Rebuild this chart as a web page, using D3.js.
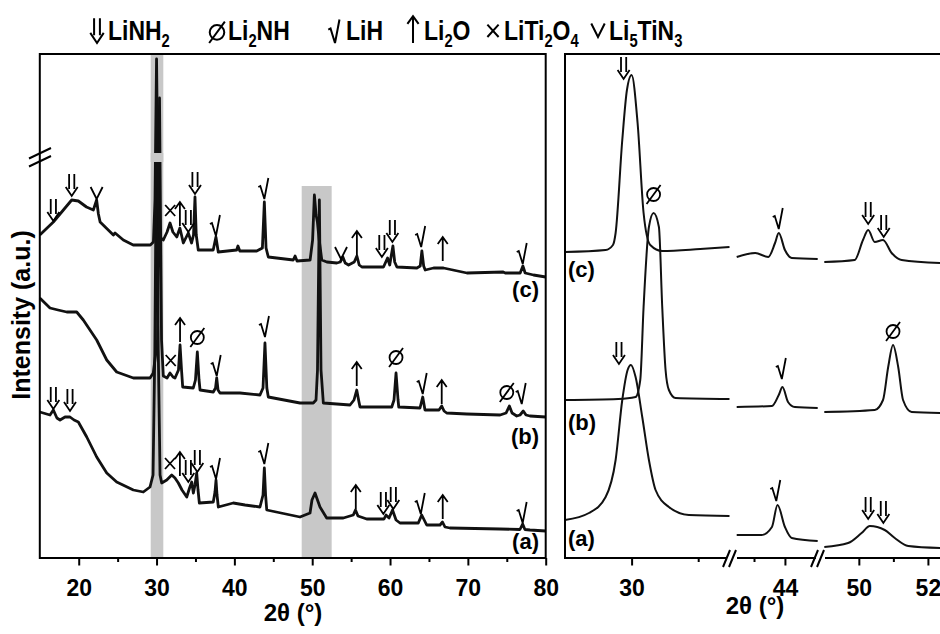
<!DOCTYPE html>
<html>
<head>
<meta charset="utf-8">
<script src="https://cdnjs.cloudflare.com/ajax/libs/d3/7.8.5/d3.min.js"></script>
<style>
  body { margin: 0; background: #fff; }
  text { font-family: Arial, "Liberation Sans", sans-serif; font-weight: bold; fill: #000; }
</style>
</head>
<body>
<svg id="chart" width="940" height="634"></svg>
<script>
// phases shown in the legend (digits are subscripts)
const phases = ['LiNH2', 'Li2NH', 'LiH', 'Li2O', 'LiTi2O4', 'Li5TiN3'];

// full range patterns, [2theta, intensity]
const patternC = [[15,323],[16.74,336],[19.1,358],[19.95,357],[21.0,351],[21.88,348],[22.3,358],[22.53,344],[22.75,336],
  [24.45,323],[24.67,325],[25.73,318],[27.0,313],[29.2,313],[29.6,316],[29.8,358],[30.0,499],[30.2,358],[30.4,321],
  [30.87,318],[31.35,326],[31.73,335],[32.1,326],[32.6,321],[33.0,330],[33.44,315],[34.08,325],[34.5,315],[34.75,323],
  [34.94,361],[35.1,323],[35.36,308],[37.28,308],[37.63,321],[37.93,306],[40.29,308],[40.46,312],[40.7,307],[42.87,307],
  [43.6,310],[43.85,356],[44.07,310],[44.36,301],[47.57,298],[47.8,302],[48.05,297],[49.73,298],[50.05,318],[50.28,363],
  [50.5,343],[50.67,336],[50.9,318],[51.23,298],[51.88,296],[53.16,295],[53.6,296],[53.94,301],[54.24,295],[54.67,293],
  [55.4,296],[55.74,302],[56.04,293],[56.38,291],[59.16,291],[59.68,300],[59.96,293],[60.15,302],[60.37,312],[60.6,296],
  [60.88,291],[63.45,290],[63.88,292],[64.09,307],[64.32,292],[64.52,288],[65.59,290],[66.87,290],[69.88,285],[74.54,286],
  [74.8,285],[76.72,285],[77.07,292],[77.36,285],[78.43,283],[80,281]];
const patternB = [[15,260],[16.31,250],[17.34,248],[18.46,246],[19.74,246],[20.59,238],[22.31,218],[23.6,198],[24.88,186],
  [27.02,180],[29.16,180],[29.58,185],[30.12,218],[30.38,460],[30.64,218],[30.87,182],[31.35,180],[31.73,185],[32.12,181],
  [32.37,180],[32.82,188],[33.02,213],[33.21,188],[33.36,171],[34.72,170],[35.0,178],[35.24,206],[35.46,178],[35.59,168],
  [37.29,166],[37.58,170],[37.73,180],[37.9,168],[38.15,165],[40.72,165],[43.29,163],[43.68,170],[43.93,215],[44.17,170],
  [44.36,161],[48.43,155],[50.14,155],[50.49,158],[50.68,188],[50.92,358],[51.13,188],[51.43,155],[54.86,153],[55.37,158],
  [55.72,168],[56.01,156],[56.14,151],[60.22,151],[60.51,158],[60.77,185],[61.03,158],[61.12,151],[63.85,150],[64.2,161],
  [64.49,148],[66.29,148],[66.64,152],[66.94,147],[67.28,145],[69.85,144],[74.14,143],[74.91,145],[75.33,152],[75.68,145],
  [76.28,142],[76.7,143],[77.12,147],[77.47,143],[77.98,142],[80,141]];
const patternA = [[15,146],[16.31,143],[16.74,148],[17.2,140],[17.6,138],[18.24,141],[18.88,141],[19.4,138],[19.95,136],
  [21.03,121],[22.31,101],[23.6,85],[24.88,76],[25.95,72],[27.02,68],[28.3,66],[29.16,71],[29.55,83],[29.78,208],[30.0,428],
  [30.22,208],[30.45,83],[30.66,75],[31.31,78],[31.95,83],[32.37,80],[32.8,75],[33.27,68],[33.88,61],[34.24,70],[34.52,76],
  [34.73,65],[34.94,73],[35.16,85],[35.33,68],[35.5,55],[37.29,56],[37.51,66],[37.64,78],[37.77,63],[37.94,51],[39.86,55],
  [41.37,53],[43.29,51],[43.68,63],[43.85,90],[44.01,63],[44.16,48],[48.43,41],[49.72,45],[49.97,58],[50.36,65],[51.0,51],
  [51.86,40],[54.0,40],[55.28,43],[55.56,48],[55.88,42],[57.0,39],[59.23,39],[59.48,43],[59.87,40],[60.32,48],[60.77,38],
  [61.28,35],[63.63,35],[64.07,43],[64.71,33],[66.42,33],[66.74,36],[67.06,31],[67.7,30],[74.12,29],[76.69,28.5],[77.04,34],
  [77.33,28.5],[77.98,28],[80,27]];

// enlarged windows around 30, 44 and 50-52 degrees
const zoom30C = [[29.0,306],[29.61,308],[29.72,313],[29.76,325],[29.86,418],[29.93,468],[30.0,483],[30.09,435],[30.18,345],
  [30.28,313],[30.46,307],[31.03,309],[31.47,311]];
const zoom30B = [[29.0,158],[29.8,159],[30.06,161],[30.13,178],[30.18,251],[30.26,331],[30.33,345],[30.41,331],[30.46,251],
  [30.51,188],[30.56,168],[30.66,160],[31.47,159]];
const zoom30A = [[29.0,38],[29.36,45],[29.61,61],[29.76,98],[29.86,158],[29.94,188],[29.99,193],[30.06,181],[30.16,141],
  [30.26,98],[30.36,68],[30.56,51],[30.86,43],[31.47,42]];
const zoom44C = [[43.22,301],[43.52,305],[43.73,301],[43.84,315],[43.9,325],[44.0,308],[44.11,300],[44.53,299]];
const zoom44B = [[43.22,151],[43.79,152],[43.9,163],[43.96,171],[44.05,156],[44.16,151],[44.53,150]];
const zoom44A = [[43.22,23],[43.62,23],[43.79,31],[43.88,53],[44.0,31],[44.11,20],[44.53,17]];
const zoom50C = [[49.0,296],[49.88,298],[50.12,318],[50.27,328],[50.46,316],[50.7,318],[50.95,305],[51.24,298],[52.35,295]];
const zoom50B = [[49.0,146],[50.46,148],[50.7,158],[50.85,191],[50.99,213],[51.14,191],[51.28,158],[51.53,146],[52.35,145]];
const zoom50A = [[49.0,11],[49.69,15],[50.08,25],[50.32,32],[50.75,28],[51.04,20],[51.43,12],[52.35,10]];

// phase markers: [phase, 2theta, intensity under the marker]
const marksC = [['LiNH2',16.74,336],['LiNH2',19.1,361],['Li5TiN3',22.3,358],['LiTi2O4',31.75,341],['Li2O',33.0,331],
  ['LiNH2',34.08,325],['LiNH2',34.94,363],['LiH',37.63,321],['LiH',43.85,358],['Li5TiN3',53.7,298],['Li2O',55.74,302],
  ['LiNH2',58.95,300],['LiNH2',60.3,315],['LiH',64.0,310],['Li2O',66.77,296],['LiH',77.05,293]];
const marksB = [['LiTi2O4',31.82,191],['Li2O',33.02,215],['Li2NH',35.24,210],['LiH',37.73,181],['LiH',43.93,220],
  ['Li2O',55.72,171],['Li2NH',60.77,190],['LiH',64.2,163],['Li2O',66.64,153],['Li2NH',75.0,155],['LiH',76.92,153]];
const marksA = [['LiNH2',16.74,148],['LiNH2',18.88,146],['LiTi2O4',31.73,88],['Li2O',33.0,81],['LiNH2',34.08,75],
  ['LiNH2',35.24,85],['LiH',37.64,78],['LiH',43.85,93],['Li2O',55.6,48],['LiNH2',59.14,43],['LiNH2',60.42,48],
  ['LiH',63.95,43],['Li2O',66.77,38],['LiH',77.04,34]];
const marks30 = [['LiNH2',29.88,478],['Li2NH',30.33,353],['LiNH2',29.81,193]];
const marks44 = [['LiH',43.9,328],['LiH',43.95,178],['LiH',43.86,56]];
const marks50 = [['LiNH2',50.27,333],['LiNH2',50.72,320],['Li2NH',50.99,216],['LiNH2',50.27,38],['LiNH2',50.71,34]];

// shaded 2theta windows
const bands = [[29.25, 30.87], [48.65, 52.5]];

const svg = d3.select('#chart');

// shared intensity scale
const y = d3.scaleLinear().domain([0, 504]).range([558, 54]);
const xL = d3.scaleLinear().domain([15, 80]).range([39.8, 545.7]);
const x30 = d3.scaleLinear().domain([29, 31.47]).range([565, 729.5]);
const x44 = d3.scaleLinear().domain([43.22, 44.53]).range([736.7, 817.7]);
const x50 = d3.scaleLinear().domain([49, 52.35]).range([824.3, 940]);

// marker glyphs, bottom tip at the origin
const glyph = {
  LiNH2: 'M-2.6,-22V-7M2.6,-22V-7M-6,-9L0,0L6,-9',
  Li2NH: 'M-7,0L7,-19M6.5,-9.5A6.5,6.5 0 1 1 -6.5,-9.5A6.5,6.5 0 1 1 6.5,-9.5',
  LiH: 'M-6,-12L-4,-13L0,0L4,-21',
  Li2O: 'M0,0V-24M-5,-17L0,-24L5,-17',
  LiTi2O4: 'M-5,-11L5,0M-5,0L5,-11',
  Li5TiN3: 'M-6,-12L0,0L6,-12'
};

function drawMarks(list, xs) {
  svg.append('g').selectAll('path').data(list).join('path')
    .attr('d', d => glyph[d[0]])
    .attr('transform', d => `translate(${xs(d[1])},${y(d[2]) - 1})`)
    .attr('fill', 'none').attr('stroke', '#000').attr('stroke-width', 1.8);
}

function drawLine(data, xs, curve, width) {
  svg.append('path').datum(data)
    .attr('d', d3.line().x(d => xs(d[0])).y(d => y(d[1])).curve(curve))
    .attr('fill', 'none').attr('stroke', '#111').attr('stroke-width', width)
    .attr('stroke-linejoin', 'round');
}

// chemical formula with subscript digits
function formula(sel, str, big, small) {
  str.split(/(\d+)/).filter(s => s).forEach((part, i, arr) => {
    const sub = /\d/.test(part);
    const prevSub = i > 0 && /\d/.test(arr[i - 1]);
    sel.append('tspan').text(part)
      .attr('font-size', sub ? small : big)
      .attr('dy', sub ? 7 : (prevSub ? -7 : 0));
  });
}

// ---------- left panel ----------
svg.append('g').selectAll('rect').data(bands).join('rect')
  .attr('x', d => xL(d[0])).attr('width', d => xL(d[1]) - xL(d[0]))
  .attr('y', (d, i) => i === 0 ? 54 : 186)
  .attr('height', (d, i) => i === 0 ? 504 : 372)
  .attr('fill', '#c8c8c8');

[patternA, patternB, patternC].forEach(p => drawLine(p, xL, d3.curveLinear, 2.8));

// break across the tall 30 degree reflections
svg.append('rect').attr('x', xL(bands[0][0])).attr('width', xL(bands[0][1]) - xL(bands[0][0]))
  .attr('y', 153).attr('height', 9).attr('fill', '#c8c8c8');

drawMarks(marksC, xL);
drawMarks(marksB, xL);
drawMarks(marksA, xL);

svg.append('rect').attr('x', 39.8).attr('y', 54).attr('width', 505.9).attr('height', 504)
  .attr('fill', 'none').attr('stroke', '#000').attr('stroke-width', 2);

// axis break on the intensity axis
svg.append('path').attr('d', 'M29,158.5L51,148M29,166.5L51,156')
  .attr('stroke', '#000').attr('stroke-width', 2);

function styleAxis(g) {
  g.select('.domain').remove();
  g.selectAll('line').attr('stroke', '#000').attr('stroke-width', 2);
  g.selectAll('text').attr('font-size', 23).attr('dy', 0).attr('y', 38).attr('fill', '#000');
}

svg.append('g').attr('transform', 'translate(0,558)')
  .call(d3.axisBottom(xL).tickValues([25, 35, 45, 55, 65, 75]).tickSize(4).tickFormat(''))
  .call(styleAxis);
svg.append('g').attr('transform', 'translate(0,558)')
  .call(d3.axisBottom(xL).tickValues([20, 30, 40, 50, 60, 70, 80]).tickSize(7.5).tickFormat(d3.format('d')))
  .call(styleAxis);

svg.append('text').attr('x', 293).attr('y', 621).attr('text-anchor', 'middle')
  .attr('font-size', 24).text('2θ (°)');
svg.append('text').attr('transform', 'translate(30,315) rotate(-90)').attr('text-anchor', 'middle')
  .attr('font-size', 25).text('Intensity (a.u.)');

[['(c)', 297], ['(b)', 444], ['(a)', 549]].forEach(d => {
  svg.append('text').attr('x', 539).attr('y', d[1]).attr('text-anchor', 'end')
    .attr('font-size', 22).text(d[0]);
});

// ---------- right panel ----------
[[zoom30A, zoom30B, zoom30C, x30], [zoom44A, zoom44B, zoom44C, x44], [zoom50A, zoom50B, zoom50C, x50]]
  .forEach(s => [s[0], s[1], s[2]].forEach(p => drawLine(p, s[3], d3.curveMonotoneX, 2)));

drawMarks(marks30, x30);
drawMarks(marks44, x44);
drawMarks(marks50, x50);

svg.append('path').attr('d', 'M565,559V54H940').attr('fill', 'none')
  .attr('stroke', '#000').attr('stroke-width', 2);

// axis segments with breaks
[[x30, [30], [31], [565, 727]], [x44, [44], [43.5], [737, 816]], [x50, [50, 52], [51], [825, 940]]]
  .forEach(s => {
    svg.append('line').attr('x1', s[3][0]).attr('x2', s[3][1]).attr('y1', 558).attr('y2', 558)
      .attr('stroke', '#000').attr('stroke-width', 2);
    svg.append('g').attr('transform', 'translate(0,558)')
      .call(d3.axisBottom(s[0]).tickValues(s[2]).tickSize(4).tickFormat(''))
      .call(styleAxis);
    svg.append('g').attr('transform', 'translate(0,558)')
      .call(d3.axisBottom(s[0]).tickValues(s[1]).tickSize(7.5).tickFormat(d3.format('d')))
      .call(styleAxis);
  });

[732, 820].forEach(cx => {
  svg.append('path')
    .attr('d', `M${cx - 9},567L${cx - 2},550M${cx - 3},567L${cx + 4},550`)
    .attr('stroke', '#000').attr('stroke-width', 2);
});

svg.append('text').attr('x', 755).attr('y', 614).attr('text-anchor', 'middle')
  .attr('font-size', 24).text('2θ (°)');

[['(c)', 277], ['(b)', 430], ['(a)', 546]].forEach(d => {
  svg.append('text').attr('x', 568).attr('y', d[1]).attr('font-size', 22).text(d[0]);
});

// ---------- legend (narrow bold face) ----------
const legendX = [97, 217, 335, 413, 493, 598];
phases.forEach((ph, i) => {
  svg.append('path').attr('d', glyph[ph])
    .attr('transform', `translate(${legendX[i]},${ph === 'LiTi2O4' || ph === 'Li5TiN3' ? 37 : 43}) scale(1.12)`)
    .attr('fill', 'none').attr('stroke', '#000').attr('stroke-width', 1.8);
  const t = svg.append('text')
    .attr('transform', `translate(${legendX[i] + 11},40) scale(0.82,1)`)
    .attr('font-size', 28);
  formula(t, ph, 28, 18);
});
</script>
</body>
</html>
